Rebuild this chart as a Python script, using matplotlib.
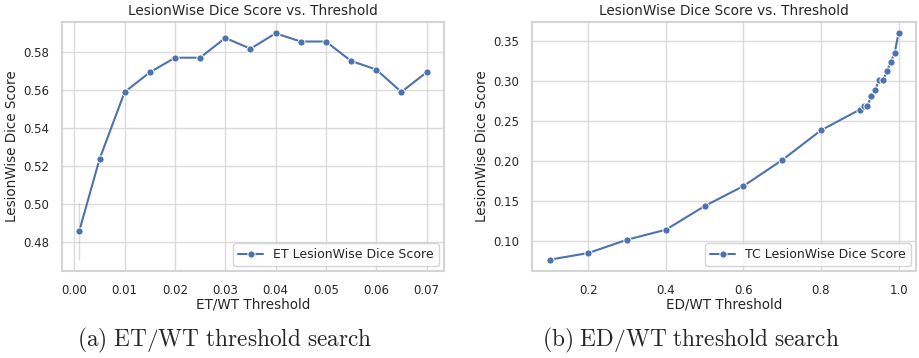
import numpy as np
import matplotlib; matplotlib.use("Agg")
import matplotlib.pyplot as plt
import seaborn as sns

# (a) ET/WT threshold search
et_thr = [0.001, 0.005, 0.01, 0.015, 0.02, 0.025, 0.03, 0.035, 0.04, 0.045, 0.05, 0.055, 0.06, 0.065, 0.07]
et_dice = [0.486, 0.5235, 0.5588, 0.5691, 0.5768, 0.5768, 0.5872, 0.5815, 0.5896, 0.5853, 0.5853,
           0.5751, 0.5706, 0.5588, 0.5691]
et_err_x = [0.001]
et_err_lo = [0.4707]
et_err_hi = [0.5007]

# (b) ED/WT threshold search
tc_thr = [0.1, 0.2, 0.3, 0.4, 0.5, 0.6, 0.7, 0.8, 0.9, 0.91, 0.92, 0.93, 0.94, 0.95, 0.96, 0.97, 0.98, 0.99, 1.0]
tc_dice = [0.0772, 0.0855, 0.1021, 0.1145, 0.1440, 0.1689, 0.2013, 0.2383, 0.2641, 0.2686, 0.2686,
           0.2815, 0.2890, 0.3006, 0.3006, 0.3118, 0.3234, 0.3346, 0.3591]

sns.set_theme(style="whitegrid", rc={"grid.color": "0.86", "axes.edgecolor": "0.83"})
plt.rcParams["mathtext.fontset"] = "cm"
C = "#4c72b0"

fig = plt.figure(figsize=(9.19, 3.58), dpi=100)
ax1 = fig.add_axes([0.0675, 0.243, 0.4155, 0.6955])
ax2 = fig.add_axes([0.579, 0.243, 0.4177, 0.6955])

ax1.vlines(et_err_x, et_err_lo, et_err_hi, color=C, alpha=0.25, lw=1)
ax1.plot(et_thr, et_dice, color=C, marker="o", ms=5.2, mec="white", mew=0.7, lw=1.5,
         label="ET LesionWise Dice Score")
ax1.set_xticks(np.arange(0, 0.071, 0.01))
ax1.set_yticks([0.48, 0.50, 0.52, 0.54, 0.56, 0.58])
ax1.set_xlabel("ET/WT Threshold")

ax2.plot(tc_thr, tc_dice, color=C, marker="o", ms=5.2, mec="white", mew=0.7, lw=1.5,
         label="TC LesionWise Dice Score")
ax2.set_xticks([0.2, 0.4, 0.6, 0.8, 1.0])
ax2.set_yticks([0.10, 0.15, 0.20, 0.25, 0.30, 0.35])
ax2.set_xlabel("ED/WT Threshold")

for ax in (ax1, ax2):
    ax.set_title("LesionWise Dice Score vs. Threshold", fontsize=9.8, pad=5)
    ax.set_ylabel("LesionWise Dice Score", fontsize=9.75, labelpad=3)
    ax.xaxis.label.set_size(9.75)
    ax.xaxis.labelpad = 1
    ax.tick_params(labelsize=8.5, pad=3)
    ax.legend(loc="lower right", fontsize=9, borderaxespad=0.4)
    for s in ax.spines.values():
        s.set_linewidth(1.5)

fig.text(0.245, 0.05, r"$\mathrm{(a)\ ET/WT\ threshold\ search}$", ha="center", va="center", fontsize=16.8)
fig.text(0.752, 0.05, r"$\mathrm{(b)\ ED/WT\ threshold\ search}$", ha="center", va="center", fontsize=16.8)

fig.savefig("out.png", dpi=100)
